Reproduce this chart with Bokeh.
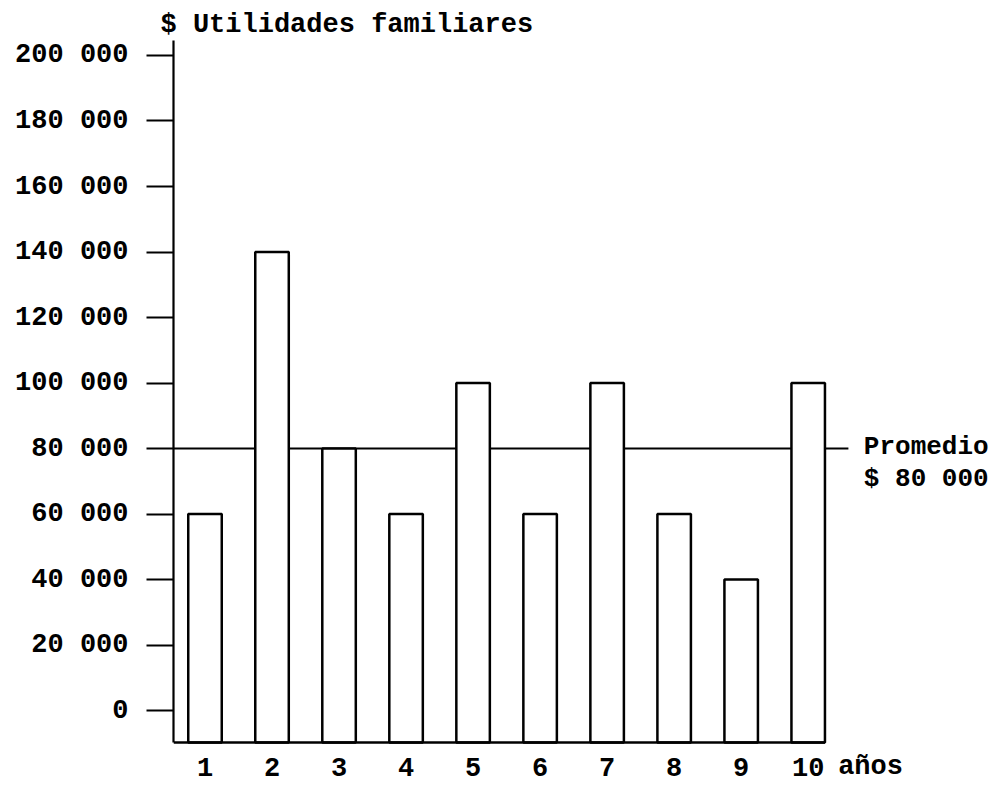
import numpy as np
from bokeh.plotting import figure
from bokeh.models import Range1d, FixedTicker, Label, LabelSet, ColumnDataSource
from bokeh.core.properties import value
from bokeh.embed import file_html
from bokeh.resources import INLINE

# ---- data ----
years = [1, 2, 3, 4, 5, 6, 7, 8, 9, 10]
year_labels = ["1", "2", "3", "4", "5", "6", "7", "8", "9", "10"]
utilidades = [60000, 140000, 80000, 60000, 100000, 60000, 100000, 60000, 40000, 100000]
y_ticks = [0, 20000, 40000, 60000, 80000, 100000, 120000, 140000, 160000, 180000, 200000]
title_text = "$ Utilidades familiares"
x_unit_text = "años"
avg_text = "Promedio"

promedio = float(np.mean(utilidades))

def fmt(v):
    return f"{int(v):,}".replace(",", " ")

FONT = "Liberation Mono"
FS = "27px"

baseline = -9800  # bars rest on the drawn base line, below the 0 tick
y_top = 204580
bar_w = 0.5

p = figure(width=990, height=785,
           x_range=Range1d(0.53, 12.72), y_range=Range1d(-22900, y_top),
           x_axis_type=None, toolbar_location=None, output_backend="svg",
           min_border_left=173, min_border_right=0, min_border_top=40, min_border_bottom=0)
p.outline_line_color = None
p.grid.visible = False
p.background_fill_color = "white"
p.border_fill_color = "white"

# title
p.title.text = title_text
p.title.align = "left"
p.title.offset = -13
p.title.standoff = 2
p.title.text_font = FONT
p.title.text_font_style = "bold"
p.title.text_font_size = FS
p.title.text_color = "black"

# average line (behind bars), extending a little past the last bar
p.segment(x0=[p.x_range.start], x1=[max(years) + 0.6], y0=[promedio], y1=[promedio],
          line_color="black", line_width=2.2)

src = ColumnDataSource(dict(x=years, top=utilidades, lab=year_labels))
p.vbar(x="x", top="top", bottom=baseline, width=bar_w, source=src,
       fill_color="white", line_color="black", line_width=2.5)

# base line under the bars
p.segment(x0=[p.x_range.start], x1=[max(years) + bar_w / 2], y0=[baseline], y1=[baseline],
          line_color="black", line_width=2.5)

# y axis
ax = p.yaxis[0]
ax.bounds = (baseline, y_top)
ax.ticker = FixedTicker(ticks=y_ticks)
ax.major_label_overrides = {t: fmt(t) for t in y_ticks}
ax.minor_tick_line_color = None
ax.major_tick_in = 0
ax.major_tick_out = 27
ax.major_tick_line_width = 2
ax.major_tick_line_color = "black"
ax.axis_line_width = 2.2
ax.axis_line_color = "black"
ax.major_label_standoff = 18
ax.major_label_text_font = FONT
ax.major_label_text_font_style = "bold"
ax.major_label_text_font_size = FS
ax.major_label_text_color = "black"

# x tick labels
p.add_layout(LabelSet(x="x", y=baseline, text="lab", source=src, y_offset=-24,
                      text_align="center", text_baseline="middle",
                      text_font=value(FONT), text_font_style=value("bold"),
                      text_font_size=value(FS), text_color=value("black")))
p.add_layout(Label(x=max(years) + 0.93, y=baseline, y_offset=-24, text=x_unit_text,
                   text_align="center", text_baseline="middle",
                   text_font=FONT, text_font_style="bold", text_font_size=FS,
                   text_color="black"))

# promedio annotation
p.add_layout(Label(x=10.83, y=promedio, y_offset=2, text=avg_text,
                   text_align="left", text_baseline="middle",
                   text_font=FONT, text_font_style="bold", text_font_size="26px",
                   text_color="black"))
p.add_layout(Label(x=10.83, y=promedio, y_offset=-30, text="$ " + fmt(promedio),
                   text_align="left", text_baseline="middle",
                   text_font=FONT, text_font_style="bold", text_font_size="26px",
                   text_color="black"))

open("out.html", "w").write(file_html(p, INLINE))
